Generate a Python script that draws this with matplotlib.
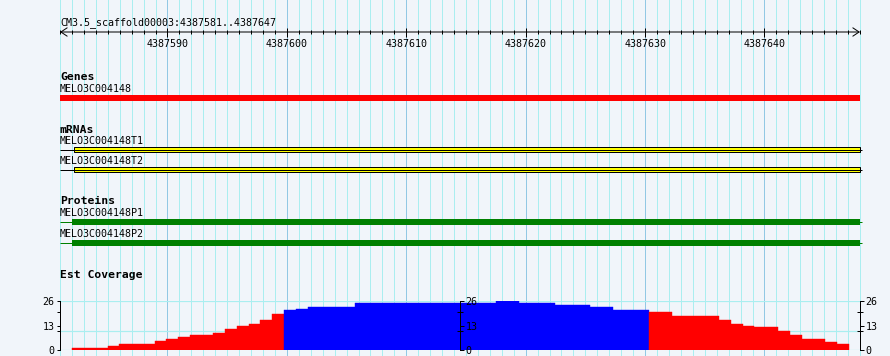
import numpy as np
import matplotlib.pyplot as plt

# ── View window / ruler ─────────────────────────────────────────────
view_start = 4387581
view_end = 4387648
view_title = "CM3.5_scaffold00003:4387581..4387647"
ruler_ticks = [4387590, 4387600, 4387610, 4387620, 4387630, 4387640]

# ── Features ────────────────────────────────────────────────────────
gene_name = "MELO3C004148"
gene_start, gene_end = 4387581, 4387648

mrna_names = ["MELO3C004148T1", "MELO3C004148T2"]
mrna_starts = [4387581, 4387581]
mrna_ends = [4387648.15, 4387648.15]
exon_starts = [4387582.2, 4387582.2]
exon_ends = [4387648, 4387648]

protein_names = ["MELO3C004148P1", "MELO3C004148P2"]
protein_starts = [4387581, 4387581]
protein_ends = [4387648.15, 4387648.15]
cds_starts = [4387582.0, 4387582.0]
cds_ends = [4387648, 4387648]

# ── Est coverage (bin edges as bp offsets from view_start) ──────────
cov_edges = [1.01, 4.02, 4.94, 7.96, 8.88, 9.88, 10.89, 12.81, 13.82, 14.82,
             15.83, 16.75, 17.76, 18.76, 19.77, 20.77, 24.71, 36.52, 38.44,
             41.46, 44.39, 46.31, 49.33, 51.26, 55.19, 56.20, 57.20, 58.12,
             60.13, 61.14, 62.14, 64.07, 65.08, 66.08]
cov_values = [1, 2, 3, 5, 6, 7, 8, 9, 11, 13, 14, 16, 19, 21, 22, 23, 25, 26,
              25, 24, 23, 21, 20, 18, 16, 14, 13, 12, 10, 8, 6, 4, 3]
cov_max = 26
cov_pivot = 20.5          # above -> blue, below -> red
cov_labels = [0, 13, 26]
cov_minor = [10, 20]
cov_grid = [0, 10, 26]

# ── Layout (pixels) ─────────────────────────────────────────────────
W, H = 890, 356
PX_L, PX_R = 60, 860
PX = 0.72                 # points per pixel at 100 dpi
px_per_bp = (PX_R - PX_L) / (view_end - view_start)

BG = "#f1f5fa"
GRID_MINOR = "#aaeef0"
GRID_MAJOR = "#92c8e4"
MONO = "DejaVu Sans Mono"
small = dict(family=MONO, fontsize=7.2, color="black")
bold = dict(family=MONO, fontsize=8.2, fontweight="bold", color="black")

fig = plt.figure(figsize=(W / 100, H / 100), dpi=100, facecolor=BG)

# ── Main canvas: x in bp, y in pixels ───────────────────────────────
ax = fig.add_axes([0, 0, 1, 1], facecolor=BG)
ax.set_xlim(view_start - PX_L / px_per_bp, view_end + (W - PX_R) / px_per_bp)
ax.set_ylim(H, 0)
for s in ax.spines.values():
    s.set_visible(False)
ax.set_xticks(ruler_ticks)
ax.set_xticks(np.arange(view_start, view_end + 1), minor=True)
ax.tick_params(which="both", length=0, labelbottom=False, labelleft=False)
ax.set_yticks([])
ax.grid(which="minor", axis="x", color=GRID_MINOR, linewidth=1 * PX)
ax.grid(which="major", axis="x", color=GRID_MAJOR, linewidth=1 * PX)
ax.set_axisbelow(True)

ax.text(view_start, 25, view_title, va="baseline", ha="left", **small)

# Genes
ax.text(view_start, 80, "Genes", va="baseline", **bold)
ax.text(view_start, 92, gene_name, va="baseline", **small)
ax.barh(98, gene_end - gene_start, left=gene_start, height=6,
        color="#ff0000", linewidth=0)

# mRNAs
ax.text(view_start, 133, "mRNAs", va="baseline", **bold)
for i, name in enumerate(mrna_names):
    base = 144 + i * 20
    yc = base + 5.5
    ax.text(view_start, base, name, va="baseline", **small)
    ax.hlines(yc, mrna_starts[i], mrna_ends[i], color="black", linewidth=1 * PX)
    ax.barh(yc, exon_ends[i] - exon_starts[i], left=exon_starts[i], height=5.5,
            color="#ffff00", edgecolor="black", linewidth=1 * PX)

# Proteins
ax.text(view_start, 204, "Proteins", va="baseline", **bold)
for i, name in enumerate(protein_names):
    base = 216 + i * 21
    yc = base + 6
    ax.text(view_start, base, name, va="baseline", **small)
    ax.hlines(yc, protein_starts[i], protein_ends[i], color="#008000",
              linewidth=1 * PX)
    ax.barh(yc, cds_ends[i] - cds_starts[i], left=cds_starts[i], height=6,
            color="#008000", linewidth=0)

ax.text(view_start, 278, "Est Coverage", va="baseline", **bold)

# ── Ruler ───────────────────────────────────────────────────────────
axr = fig.add_axes([PX_L / W, (H - 32) / H, (PX_R - PX_L) / W, 1 / H])
axr.set_facecolor("none")
axr.set_xlim(view_start, view_end)
axr.set_yticks([])
for s in axr.spines.values():
    s.set_visible(False)
axr.set_xticks(ruler_ticks)
axr.set_xticklabels([str(t) for t in ruler_ticks], **small)
axr.set_xticks(np.arange(view_start, view_end + 1), minor=True)
axr.tick_params(which="major", direction="inout", length=9 * PX,
                width=1 * PX, pad=1.5)
axr.tick_params(which="minor", direction="inout", length=4.5 * PX,
                width=1 * PX)
axr.annotate("", xy=(0, 0), xytext=(1, 0), xycoords="axes fraction",
             textcoords="axes fraction",
             arrowprops=dict(arrowstyle="<->,head_length=0.45,head_width=0.3",
                             color="black", linewidth=1 * PX,
                             shrinkA=0, shrinkB=0, mutation_scale=10))

# ── Coverage histogram ──────────────────────────────────────────────
edges = view_start + np.array(cov_edges)
vals = np.array(cov_values)
colors = np.where(vals > cov_pivot, "#0000ff", "#ff0000")

axc = fig.add_axes([PX_L / W, (H - 350) / H, (PX_R - PX_L) / W, 49 / H])
axc.set_facecolor("none")
axc.set_xlim(view_start, view_end)
axc.set_ylim(0, cov_max)
for yv in cov_grid:
    axc.axhline(yv, color=GRID_MINOR, linewidth=1.2 * PX, zorder=0)
axc.bar(edges[:-1], vals, width=np.diff(edges), align="edge",
        color=colors, edgecolor=colors, linewidth=0.3, zorder=2)
axc.set_xticks([])
for name in ["top", "bottom", "right"]:
    axc.spines[name].set_visible(False)
axc.spines["left"].set_linewidth(1 * PX)


def style_yaxis(a, minor_dir):
    a.set_yticks(cov_labels)
    a.set_yticklabels([str(v) for v in cov_labels], **small)
    a.set_yticks(cov_minor, minor=True)
    a.tick_params(axis="y", which="major", direction="out",
                  length=3.5 * PX, width=1 * PX, pad=1.5)
    a.tick_params(axis="y", which="minor", direction=minor_dir,
                  length=(3.5 if minor_dir == "out" else 6) * PX, width=1 * PX)


style_yaxis(axc, "out")
for loc in [0.5, "right"]:
    sec = axc.secondary_yaxis(loc)
    sec.set_zorder(5)
    for s in sec.spines.values():
        s.set_linewidth(1 * PX)
    style_yaxis(sec, "inout")

fig.savefig("out.png", dpi=100, facecolor=BG)
